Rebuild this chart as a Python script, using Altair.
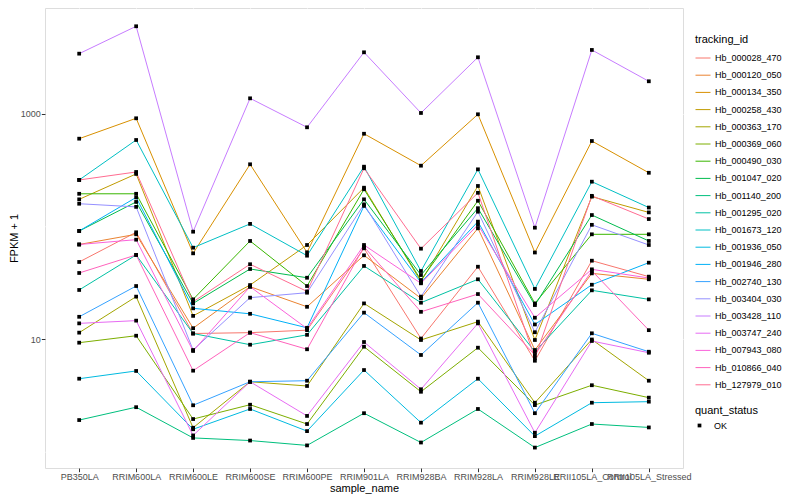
import altair as alt
import pandas as pd

samples = ["PB350LA", "RRIM600LA", "RRIM600LE", "RRIM600SE", "RRIM600PE", "RRIM901LA",
           "RRIM928BA", "RRIM928LA", "RRIM928LE", "RRII105LA_Control", "RRII105LA_Stressed"]

ids = ["Hb_000028_470", "Hb_000120_050", "Hb_000134_350", "Hb_000258_430", "Hb_000363_170",
       "Hb_000369_060", "Hb_000490_030", "Hb_001047_020", "Hb_001140_200", "Hb_001295_020",
       "Hb_001673_120", "Hb_001936_050", "Hb_001946_280", "Hb_002740_130", "Hb_003404_030",
       "Hb_003428_110", "Hb_003747_240", "Hb_007943_080", "Hb_010866_040", "Hb_127979_010"]

colors = ["#F8766D", "#EA8331", "#D89000", "#C09B00", "#A3A500", "#7CAE00", "#39B600",
          "#00BB4E", "#00BF7D", "#00C1A3", "#00BFC4", "#00BAE0", "#00B0F6", "#35A2FF",
          "#9590FF", "#C77CFF", "#E76BF3", "#FA62DB", "#FF62BC", "#FF6C91"]

# FPKM + 1 per tracking_id, in sample order
v_000028_470 = [48.7, 89.3, 11.3, 11.5, 12.1, 64.4, 10.2, 44.2, 6.48, 50.0, 36.1]
v_000120_050 = [69.6, 85.7, 12.6, 29.4, 19.5, 55.8, 23.2, 96.9, 8.07, 38.6, 34.2]
v_000134_350 = [604, 916, 58.1, 358, 59.3, 668, 348, 994, 59.1, 576, 301]
v_000258_430 = [175, 294, 16.2, 30.4, 68.9, 222, 32.6, 230, 9.9, 185, 134]
v_000363_170 = [11.5, 24.0, 1.65, 4.22, 3.87, 20.9, 9.9, 14.4, 2.75, 10.0, 4.31]
v_000369_060 = [9.37, 10.8, 1.97, 2.64, 1.78, 8.63, 3.44, 8.46, 2.62, 3.93, 3.05]
v_000490_030 = [196, 196, 22.7, 74.8, 29.8, 215, 33.7, 170, 20.9, 85.7, 85.7]
v_001047_020 = [91.7, 166, 20.9, 42.2, 35.3, 175, 37.3, 146, 20.2, 127, 74.8]
v_001140_200 = [1.93, 2.51, 1.34, 1.27, 1.15, 2.22, 1.22, 2.42, 1.10, 1.78, 1.66]
v_001295_020 = [27.5, 56.2, 11.3, 8.99, 11.0, 44.9, 21.2, 34.2, 7.79, 27.3, 22.7]
v_001673_120 = [260, 588, 65.2, 106, 55.4, 341, 40.5, 323, 28.1, 251, 148]
v_001936_050 = [4.49, 5.26, 1.60, 2.42, 1.54, 5.36, 1.83, 4.49, 1.39, 2.75, 2.81]
v_001946_280 = [91.7, 182, 18.9, 16.9, 12.7, 153, 32.0, 111, 13.6, 30.6, 48.0]
v_002740_130 = [15.9, 29.8, 2.61, 4.22, 4.31, 17.3, 7.29, 21.2, 2.22, 11.35, 7.79]
v_003404_030 = [160, 150, 8.07, 23.5, 26.0, 158, 24.0, 136, 11.6, 104, 68.9]
v_003428_110 = [3428, 5998, 90.4, 1377, 762, 3524, 1021, 3184, 98.1, 3698, 1950]
v_003747_240 = [13.9, 14.7, 1.41, 4.22, 2.10, 9.5, 3.62, 13.9, 1.49, 9.7, 7.63]
v_007943_080 = [69.6, 76.8, 7.91, 29.4, 12.5, 68.9, 31.5, 104, 15.6, 41.9, 35.1]
v_010866_040 = [38.9, 56.2, 5.29, 11.5, 8.19, 66.5, 17.6, 25.3, 7.29, 40.7, 12.1]
v_127979_010 = [260, 306, 21.6, 46.5, 26.7, 330, 63.9, 200, 6.85, 188, 117]

series = [v_000028_470, v_000120_050, v_000134_350, v_000258_430, v_000363_170,
          v_000369_060, v_000490_030, v_001047_020, v_001140_200, v_001295_020,
          v_001673_120, v_001936_050, v_001946_280, v_002740_130, v_003404_030,
          v_003428_110, v_003747_240, v_007943_080, v_010866_040, v_127979_010]

minor_breaks = [1, 100]
major_breaks = [10, 1000]

rows = []
for tid, vals in zip(ids, series):
    for i, (s, v) in enumerate(zip(samples, vals)):
        rows.append({"tracking_id": tid, "sample_name": s, "idx": i,
                     "fpkm": v, "quant_status": "OK"})
df = pd.DataFrame(rows)

FONT = "Liberation Sans"
yscale = alt.Scale(type="log", domain=[0.725, 8710], nice=False)
xscale = alt.Scale(domain=samples, padding=0.6)

x_enc = alt.X("sample_name:N", scale=xscale, sort=samples,
              axis=alt.Axis(title="sample_name", labelAngle=0, labelOverlap=False,
                            labelBound=False, grid=True, gridColor="white", gridWidth=1.1,
                            domain=False, tickColor="#333333", tickSize=3.7,
                            labelColor="#4D4D4D", labelFontSize=9, labelPadding=1,
                            titleFontSize=11, titleFontWeight="normal", titlePadding=1,
                            labelFont=FONT, titleFont=FONT))
y_enc = alt.Y("fpkm:Q", scale=yscale,
              axis=alt.Axis(title="FPKM + 1", values=major_breaks, format="d",
                            grid=True, gridColor="white", gridWidth=1.1,
                            domain=False, tickColor="#333333", tickSize=3.7,
                            labelColor="#4D4D4D", labelFontSize=9, labelPadding=1,
                            titleFontSize=11, titleFontWeight="normal", titlePadding=1,
                            labelFont=FONT, titleFont=FONT))

minor = alt.Chart(pd.DataFrame({"fpkm": minor_breaks})).mark_rule(
    color="white", strokeWidth=0.55).encode(y=alt.Y("fpkm:Q", scale=yscale))

lines = alt.Chart(df).mark_line(strokeWidth=1).encode(
    x=x_enc, y=y_enc,
    color=alt.Color("tracking_id:N", scale=alt.Scale(domain=ids, range=colors),
                    legend=alt.Legend(title="tracking_id", orient="none", legendX=650,
                                      legendY=26, symbolType="stroke", symbolSize=225,
                                      symbolStrokeWidth=1, rowPadding=4.2,
                                      titlePadding=5, labelFontSize=9, titleFontSize=11,
                                      titleFontWeight="normal", labelFont=FONT,
                                      titleFont=FONT, labelColor="black", padding=0,
                                      labelOffset=4)),
    detail="tracking_id:N",
    order="idx:Q")

points = alt.Chart(df).mark_point(filled=True, color="black", size=14, opacity=1).encode(
    x=alt.X("sample_name:N", scale=xscale, sort=samples),
    y=alt.Y("fpkm:Q", scale=yscale),
    shape=alt.Shape("quant_status:N", scale=alt.Scale(range=["square"]),
                    legend=alt.Legend(title="quant_status", orient="none", legendX=650,
                                      legendY=397, symbolFillColor="black",
                                      symbolStrokeColor="black", symbolSize=14,
                                      labelFontSize=9, titleFontSize=11,
                                      titleFontWeight="normal", labelFont=FONT,
                                      titleFont=FONT, labelColor="black", padding=0,
                                      titlePadding=5, labelOffset=10)))

chart = alt.layer(minor, lines, points).resolve_scale(color="independent").properties(
    width=638, height=460,
    autosize=alt.AutoSizeParams(type="none"),
    padding={"left": 37, "top": 0, "right": 109, "bottom": 28},
).configure_view(fill="#EBEBEB", stroke=None).configure(font=FONT)

chart.save("out.html", embed_options={"renderer": "svg", "actions": False})
